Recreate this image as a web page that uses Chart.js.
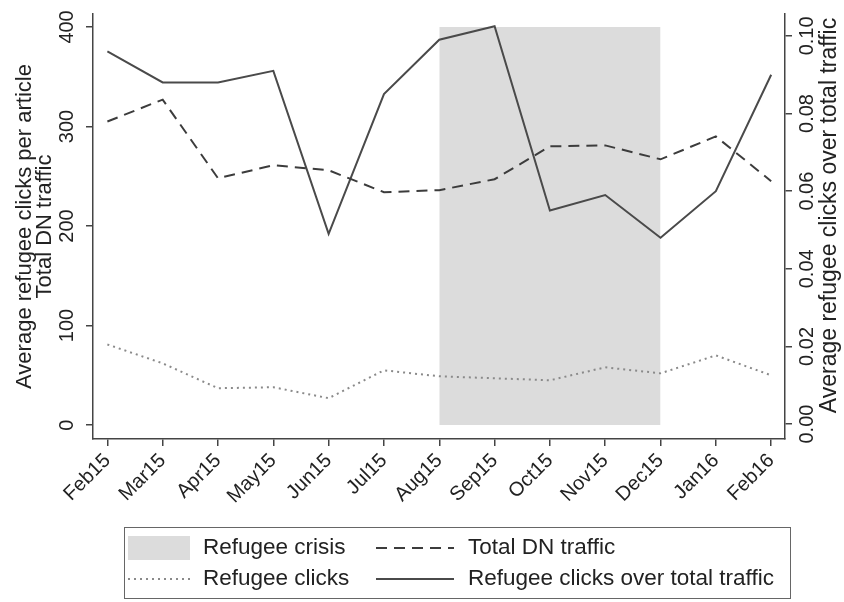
<!DOCTYPE html>
<html>
<head>
<meta charset="utf-8">
<script src="https://cdn.jsdelivr.net/npm/chart.js@4"></script>
<style>
  body { margin: 0; background: #fff; }
  canvas { display: block; }
</style>
</head>
<body>
<canvas id="chart" width="844" height="602"></canvas>
<script>
// monthly series
const months = ["Feb15", "Mar15", "Apr15", "May15", "Jun15", "Jul15", "Aug15",
                "Sep15", "Oct15", "Nov15", "Dec15", "Jan16", "Feb16"];
const totalTraffic = [305, 327, 248, 261, 256, 234, 236, 247, 280, 281, 267, 290, 245];
const refugeeClicks = [81, 62, 37, 38, 27, 55, 49, 47, 45, 58, 52, 70, 50];
const clicksOverTotal = [0.096, 0.088, 0.088, 0.091, 0.049, 0.085, 0.099, 0.1025,
                         0.055, 0.059, 0.048, 0.060, 0.090];
// shaded crisis period
const crisisMonths = ["Aug15", "Dec15"];
const crisisTop = 400;
const rightTitle = "Average refugee clicks over total traffic";

const FONT = "'Liberation Sans', Arial, sans-serif";
const toPoints = (arr) => arr.map((v, i) => ({ x: i, y: v }));
const crisisPoints = crisisMonths.map((m) => ({ x: months.indexOf(m), y: crisisTop }));

// Chart.js turns right-hand titles top-to-bottom; this one reads upward
const rightTitlePlugin = {
  id: "rightTitle",
  afterDraw(chart) {
    const s = chart.scales.y2;
    const ctx = chart.ctx;
    ctx.save();
    ctx.translate(830, (s.top + s.bottom) / 2 - 11);
    ctx.rotate(-Math.PI / 2);
    ctx.font = "23px " + FONT;
    ctx.fillStyle = "#222";
    ctx.textAlign = "center";
    ctx.textBaseline = "middle";
    ctx.fillText(rightTitle, 0, 0);
    ctx.restore();
  },
};

const legendPlugin = {
  id: "boxLegend",
  afterDraw(chart) {
    const ctx = chart.ctx;
    const ds = chart.data.datasets;
    // grid order: row 1 = crisis, total; row 2 = clicks, ratio
    const cells = [
      { d: ds[0], col: 0, row: 0 },
      { d: ds[1], col: 1, row: 0 },
      { d: ds[2], col: 0, row: 1 },
      { d: ds[3], col: 1, row: 1 },
    ];
    const colX = [128, 376];
    const labelX = [203, 468];
    const rowY = [548, 579];
    ctx.save();
    ctx.strokeStyle = "#666";
    ctx.lineWidth = 1;
    ctx.strokeRect(124.5, 527.5, 666, 71);
    ctx.font = "22.5px " + FONT;
    ctx.textBaseline = "middle";
    cells.forEach(({ d, col, row }) => {
      const y = rowY[row];
      if (d.fill) {
        ctx.fillStyle = d.backgroundColor;
        ctx.fillRect(colX[col], y - 12, 62, 24);
      } else {
        ctx.strokeStyle = d.borderColor;
        ctx.lineWidth = d.borderWidth;
        ctx.setLineDash(d.borderDash || []);
        ctx.beginPath();
        ctx.moveTo(colX[col], y);
        ctx.lineTo(colX[col] + (col === 0 ? 62 : 78), y);
        ctx.stroke();
        ctx.setLineDash([]);
      }
      ctx.fillStyle = "#222";
      ctx.fillText(d.label, labelX[col], y);
    });
    ctx.restore();
  },
};

const axisLine = { color: "#444", width: 1.5 };
const tickGrid = { drawOnChartArea: false, drawTicks: true, tickLength: 7, color: "#444", lineWidth: 1.5 };

new Chart(document.getElementById("chart"), {
  type: "line",
  data: {
    datasets: [
      {
        label: "Refugee crisis",
        data: crisisPoints,
        yAxisID: "y",
        fill: "origin",
        backgroundColor: "#dcdcdc",
        borderWidth: 0,
        pointRadius: 0,
        order: 10,
      },
      {
        label: "Total DN traffic",
        data: toPoints(totalTraffic),
        yAxisID: "y",
        borderColor: "#3c3c3c",
        borderWidth: 2,
        borderDash: [11, 7],
        pointRadius: 0,
        fill: false,
      },
      {
        label: "Refugee clicks",
        data: toPoints(refugeeClicks),
        yAxisID: "y",
        borderColor: "#8a8a8a",
        borderWidth: 2,
        borderDash: [2, 4],
        pointRadius: 0,
        fill: false,
      },
      {
        label: "Refugee clicks over total traffic",
        data: toPoints(clicksOverTotal),
        yAxisID: "y2",
        borderColor: "#4a4a4a",
        borderWidth: 2,
        pointRadius: 0,
        fill: false,
      },
    ],
  },
  options: {
    responsive: false,
    devicePixelRatio: 1,
    animation: false,
    layout: { padding: { top: 12, bottom: 87, left: 0, right: 0 } },
    plugins: {
      legend: { display: false },
      tooltip: { enabled: false },
    },
    scales: {
      x: {
        type: "linear",
        min: -0.26,
        max: 12.25,
        afterBuildTicks: (axis) => { axis.ticks = months.map((m, i) => ({ value: i })); },
        afterFit: (scale) => { scale.height = 76; },
        border: axisLine,
        grid: tickGrid,
        ticks: {
          color: "#222",
          font: { family: FONT, size: 20 },
          minRotation: 45,
          maxRotation: 45,
          padding: 3,
          autoSkip: false,
          callback: (v) => months[v],
        },
      },
      y: {
        position: "left",
        min: -14,
        max: 413,
        afterFit: (scale) => { scale.width = 93; },
        border: axisLine,
        grid: tickGrid,
        ticks: {
          stepSize: 100,
          includeBounds: false,
          color: "#222",
          font: { family: FONT, size: 20 },
          minRotation: 90,
          maxRotation: 90,
          crossAlign: "center",
          padding: 2,
        },
        title: {
          display: true,
          text: ["Average refugee clicks per article", "Total DN traffic"],
          color: "#222",
          font: { family: FONT, size: 22, lineHeight: 0.92 },
          padding: { top: 15, bottom: 0 },
        },
      },
      y2: {
        position: "right",
        min: -0.00385,
        max: 0.10564,
        afterFit: (scale) => { scale.width = 59; },
        border: axisLine,
        grid: tickGrid,
        ticks: {
          stepSize: 0.02,
          includeBounds: false,
          color: "#222",
          font: { family: FONT, size: 20 },
          minRotation: 90,
          maxRotation: 90,
          crossAlign: "center",
          padding: -4,
          callback: (v) => v.toFixed(2),
        },
      },
    },
  },
  plugins: [rightTitlePlugin, legendPlugin],
});
</script>
</body>
</html>
